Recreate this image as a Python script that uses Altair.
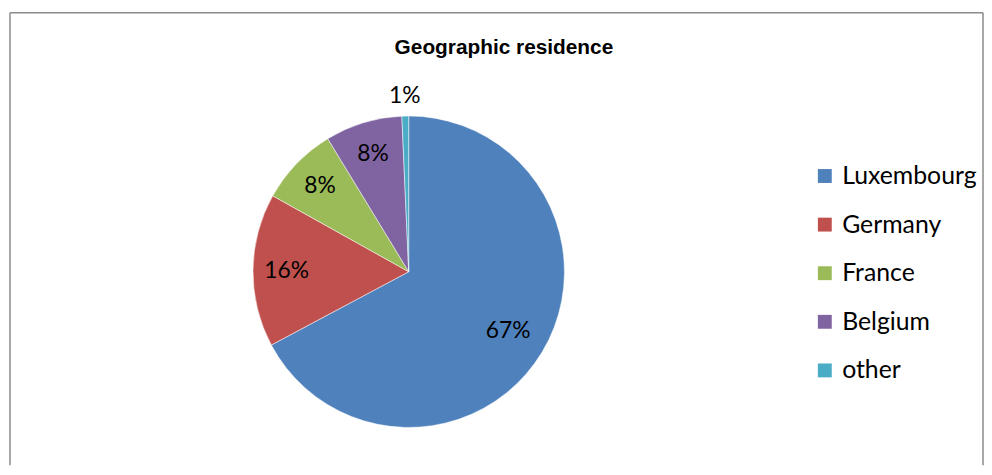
import math
import altair as alt
import pandas as pd

categories = ["Luxembourg", "Germany", "France", "Belgium", "other"]
shares = [67.2, 15.9, 8.2, 8.0, 0.7]
labels = ["67%", "16%", "8%", "8%", "1%"]
colors = ["#4F81BD", "#C0504D", "#9BBB59", "#8064A2", "#4BACC6"]
label_radius = [117, 123, 124, 124, 177]

df = pd.DataFrame({
    "category": categories,
    "share": shares,
    "label": labels,
    "ord": list(range(len(categories))),
    "r": label_radius,
})
total = float(sum(shares))

CX, CY, R = 404, 264, 157

color = alt.Color(
    "category:N",
    scale=alt.Scale(domain=categories, range=colors),
    legend=alt.Legend(
        title=None,
        orient="none",
        legendX=811,
        legendY=155,
        padding=0,
        symbolType="square",
        symbolSize=196,
        symbolStrokeWidth=0,
        labelFont="Lato",
        labelFontSize=25,
        labelColor="#000000",
        labelOffset=5,
        rowPadding=23,
    ),
)

pie = alt.Chart(df).mark_arc(radius=R, stroke="#ffffff", strokeWidth=0.5).encode(
    theta=alt.Theta("share:Q", stack=True),
    order=alt.Order("ord:Q"),
    color=color,
    x=alt.value(CX),
    y=alt.value(CY),
)

text = alt.Chart(df).transform_window(
    cum="sum(share)", sort=[alt.SortField("ord", order="ascending")]
).transform_calculate(
    mid="datum.cum - datum.share / 2"
).mark_text(font="Lato", fontSize=23, color="#000000",
            align="center", baseline="middle").encode(
    theta=alt.Theta("mid:Q", scale=alt.Scale(domain=[0, total], range=[0, 2 * math.pi])),
    text="label:N",
    radius=alt.Radius("r:Q", scale=None),
    x=alt.value(CX),
    y=alt.value(CY),
)

title = alt.Chart(pd.DataFrame({"t": ["Geographic residence"]})).mark_text(
    font="Liberation Sans", fontSize=21, fontWeight="bold", color="#000000",
    align="center", baseline="alphabetic"
).encode(text="t:N", x=alt.value(500), y=alt.value(44))

border_df = pd.DataFrame({"side": ["frame"]})
frame_left = alt.Chart(border_df).mark_rule(color="#8a8a8a", strokeWidth=1.5).encode(
    x=alt.value(2), y=alt.value(3), y2=alt.value(459))
frame_top = alt.Chart(border_df).mark_rule(color="#8a8a8a", strokeWidth=1.5).encode(
    x=alt.value(2), x2=alt.value(983), y=alt.value(3))
frame_right = alt.Chart(border_df).mark_rule(color="#8a8a8a", strokeWidth=1.5).encode(
    x=alt.value(983), y=alt.value(3), y2=alt.value(459))

chart = alt.layer(frame_left, frame_top, frame_right, pie, text, title).properties(
    width=984, height=459, autosize="none", padding=0
).configure_view(stroke=None)

chart.save("out.html", embed_options={"renderer": "svg", "actions": False})
